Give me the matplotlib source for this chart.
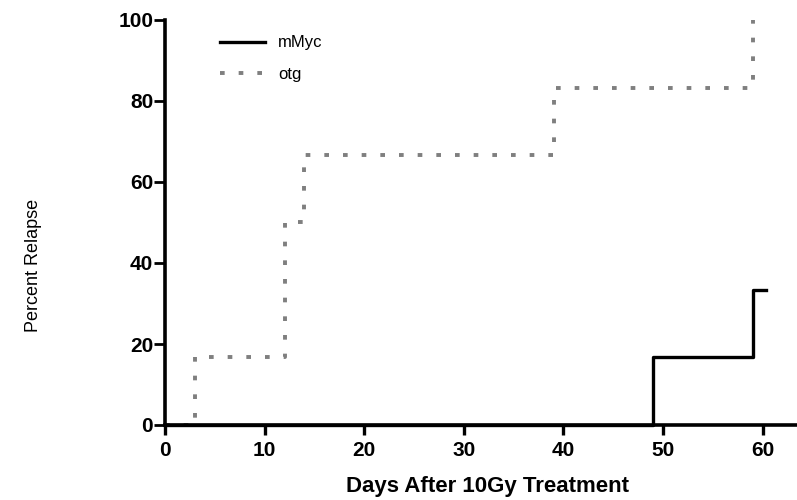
import matplotlib.pyplot as plt

# relapse curves (step data), days vs percent relapse
otg_days = [0, 3, 12, 14, 39, 59]
otg_pct = [0, 16.67, 50, 66.67, 83.33, 100]
otg_end = 59

mmyc_days = [0, 49, 59]
mmyc_pct = [0, 16.67, 33.33]
mmyc_end = 60.3

xticks = [0, 10, 20, 30, 40, 50, 60]
yticks = [0, 20, 40, 60, 80, 100]

plt.rcParams['font.family'] = ['Liberation Sans', 'DejaVu Sans']

fig = plt.figure(figsize=(7.97, 5.0), dpi=100)
ax = fig.add_axes([0.207, 0.15, 0.80, 0.81])

ax.step(mmyc_days + [mmyc_end], mmyc_pct + [mmyc_pct[-1]], where='post',
        color='black', lw=2.4, label='mMyc', clip_on=False, zorder=3)
ax.step(otg_days + [otg_end], otg_pct + [otg_pct[-1]], where='post',
        color='#7f7f7f', lw=2.8, linestyle=(0, (1.2, 3.6)), label='otg',
        clip_on=False, zorder=2)

ax.set_xlim(0, 64)
ax.set_ylim(0, 100)
ax.set_xticks(xticks)
ax.set_yticks(yticks)

for s in ['top', 'right']:
    ax.spines[s].set_visible(False)
for s in ['left', 'bottom']:
    ax.spines[s].set_linewidth(2.6)
    ax.spines[s].set_zorder(4)
ax.tick_params(axis='x', direction='out', length=7, width=2.4, labelsize=15, pad=4.5)
ax.tick_params(axis='y', direction='out', length=8, width=2.0, labelsize=15, pad=0.5)
for lab in ax.get_xticklabels() + ax.get_yticklabels():
    lab.set_fontweight('bold')

ax.set_xlabel('Days After 10Gy Treatment', fontsize=16, fontweight='bold')
ax.xaxis.set_label_coords(0.506, -0.125)
ax.set_ylabel('Percent Relapse', fontsize=13)
ax.yaxis.set_label_coords(-0.193, 0.395)

leg = ax.legend(loc='upper left', bbox_to_anchor=(0.086, 0.962), frameon=False,
                fontsize=12, handlelength=2.7, handletextpad=0.8,
                labelspacing=1.0, borderpad=0, borderaxespad=0)

fig.savefig('out.png', dpi=100)
